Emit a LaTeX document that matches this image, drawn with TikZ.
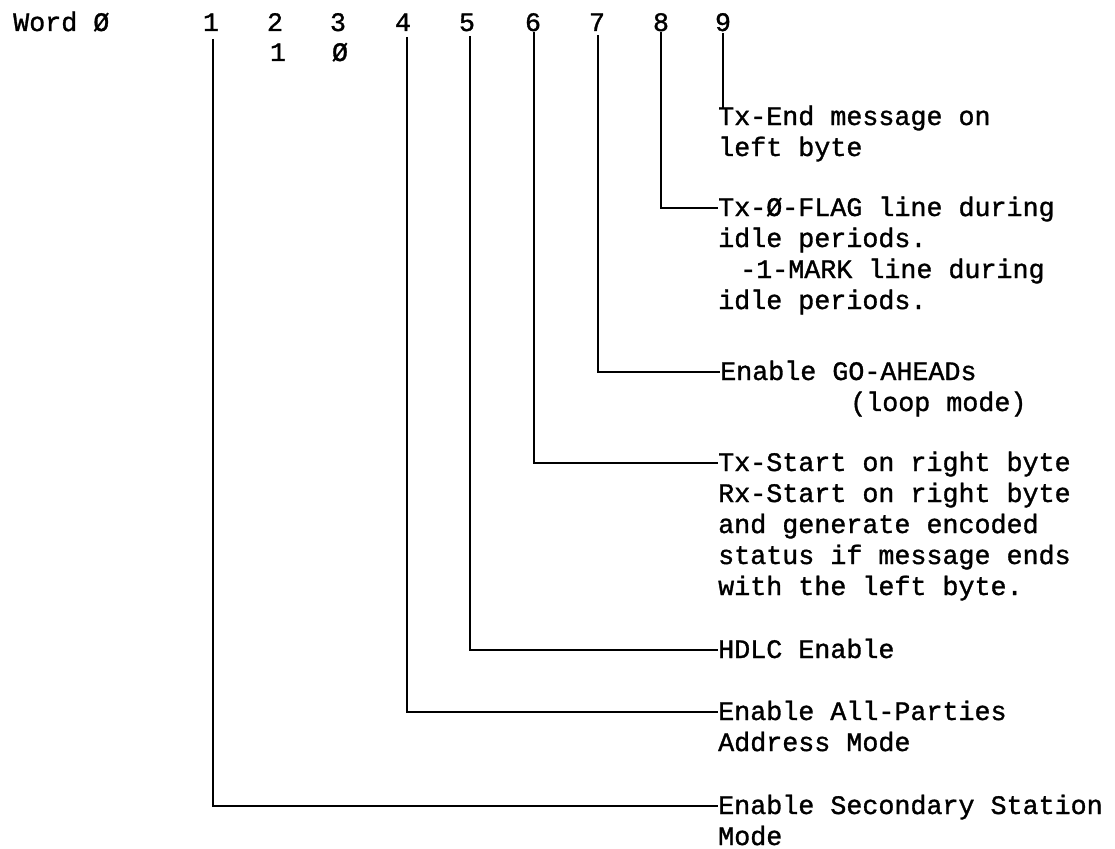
\documentclass[tikz,border=0pt]{standalone}
\usepackage{fontspec}
\newfontfamily\mono[FakeBold=1.2]{Liberation Mono}
\begin{document}
\begin{tikzpicture}[x=1pt,y=-1pt,
  txt/.style={anchor=west, inner sep=0pt, text height=16pt, text depth=0pt, font=\mono\fontsize{26.7}{31}\selectfont},
  dig/.style={txt, anchor=center},
  bar/.style={line width=1.9pt, line join=miter},
  thinbar/.style={line width=1.1pt}]
\useasboundingbox (0,0) rectangle (1115,848);
% header
\node[txt] (word) at (13,23) {Word Ø};
\node[dig] (d1) at (211,23) {1};
\node[dig] (d2) at (275,23) {2};
\node[dig] (d3) at (338,23) {3};
\node[dig] (d4) at (403,23) {4};
\node[dig] (d5) at (467,23) {5};
\node[dig] (d6) at (533,23) {6};
\node[dig] (d7) at (597,23) {7};
\node[dig] (d8) at (661,23) {8};
\node[dig] (d9) at (723,23) {9};
\node[dig] (e2) at (278,53) {1};
\node[dig] (e3) at (340,53) {Ø};
% top ends of the bars
\coordinate (b1) at (213,39);
\coordinate (b4) at (407,37);
\coordinate (b5) at (470,36);
\coordinate (b6) at (534,32);
\coordinate (b7) at (598,35);
\coordinate (b8) at (661,32);
\coordinate (b9) at (723,33);
% texts
\node[txt] (t9) at (718,117) {Tx-End message on};
\node[txt] (t9b) at (718,148) {left byte};
\node[txt] (t8) at (718,208) {Tx-Ø-FLAG line during};
\node[txt] (t8b) at (718,239) {idle periods.};
\node[txt] (t8c) at (740,270) {-1-MARK line during};
\node[txt] (t8d) at (718,301) {idle periods.};
\node[txt] (t7) at (720,372) {Enable GO-AHEADs};
\node[txt] (t7b) at (850,403) {(loop mode)};
\node[txt] (t6) at (718,463) {Tx-Start on right byte};
\node[txt] (t6b) at (718,494) {Rx-Start on right byte};
\node[txt] (t6c) at (718,525) {and generate encoded};
\node[txt] (t6d) at (718,556) {status if message ends};
\node[txt] (t6e) at (718,587) {with the left byte.};
\node[txt] (t5) at (718,650) {HDLC Enable};
\node[txt] (t4) at (718,712) {Enable All-Parties};
\node[txt] (t4b) at (718,743) {Address Mode};
\node[txt] (t1) at (718,806) {Enable Secondary Station};
\node[txt] (t1b) at (718,837) {Mode};
% connectors
\draw[thinbar] (b9) -- (b9 |- t9.north);
\draw[bar] (b8) |- (t8.west);
\draw[bar] (b7) |- (t7.west);
\draw[bar] (b6) |- (t6.west);
\draw[bar] (b5) |- (t5.west);
\draw[bar] (b4) |- (t4.west);
\draw[bar] (b1) |- (t1.west);
\end{tikzpicture}
\end{document}
